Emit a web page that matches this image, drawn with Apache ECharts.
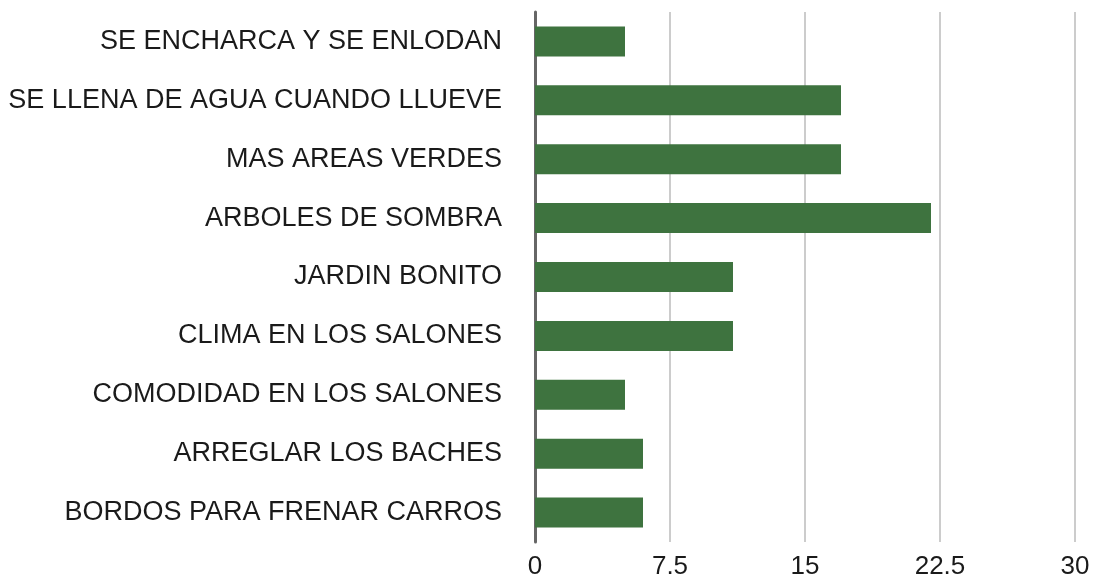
<!DOCTYPE html>
<html>
<head>
<meta charset="utf-8">
<script src="https://cdn.jsdelivr.net/npm/echarts@6/dist/echarts.min.js"></script>
<style>
  html, body { margin: 0; padding: 0; background: #fff; }
  #chart { width: 1096px; height: 581px; }
</style>
</head>
<body>
<div id="chart"></div>
<script>
var categories = [
    'SE ENCHARCA Y SE ENLODAN',
    'SE LLENA DE AGUA CUANDO LLUEVE',
    'MAS AREAS VERDES',
    'ARBOLES DE SOMBRA',
    'JARDIN BONITO',
    'CLIMA EN LOS SALONES',
    'COMODIDAD EN LOS SALONES',
    'ARREGLAR LOS BACHES',
    'BORDOS PARA FRENAR CARROS'
];
var values = [5, 17, 17, 22, 11, 11, 5, 6, 6];

var dom = document.getElementById('chart');
var myChart = echarts.init(dom);
myChart.setOption({
    animation: false,
    grid: {
        top: 12,
        left: 535,
        right: 21,
        bottom: 39,
        containLabel: false
    },
    xAxis: {
        type: 'value',
        min: 0,
        max: 30,
        interval: 7.5,
        axisLine: { show: false },
        axisTick: { show: false },
        splitLine: {
            lineStyle: { color: '#cccccc', width: 2 }
        },
        axisLabel: {
            color: '#1a1a1a',
            fontSize: 26,
            fontFamily: 'Liberation Sans',
            margin: 12
        }
    },
    yAxis: {
        type: 'category',
        data: categories,
        inverse: true,
        axisLine: {
            show: true,
            lineStyle: { color: '#666666', width: 3 }
        },
        axisTick: { show: false },
        axisLabel: {
            color: '#1a1a1a',
            fontSize: 27,
            fontFamily: 'Liberation Sans',
            margin: 33
        }
    },
    series: [
        {
            type: 'bar',
            data: values,
            barWidth: 30,
            itemStyle: { color: '#3e733f' }
        }
    ]
});
</script>
</body>
</html>
